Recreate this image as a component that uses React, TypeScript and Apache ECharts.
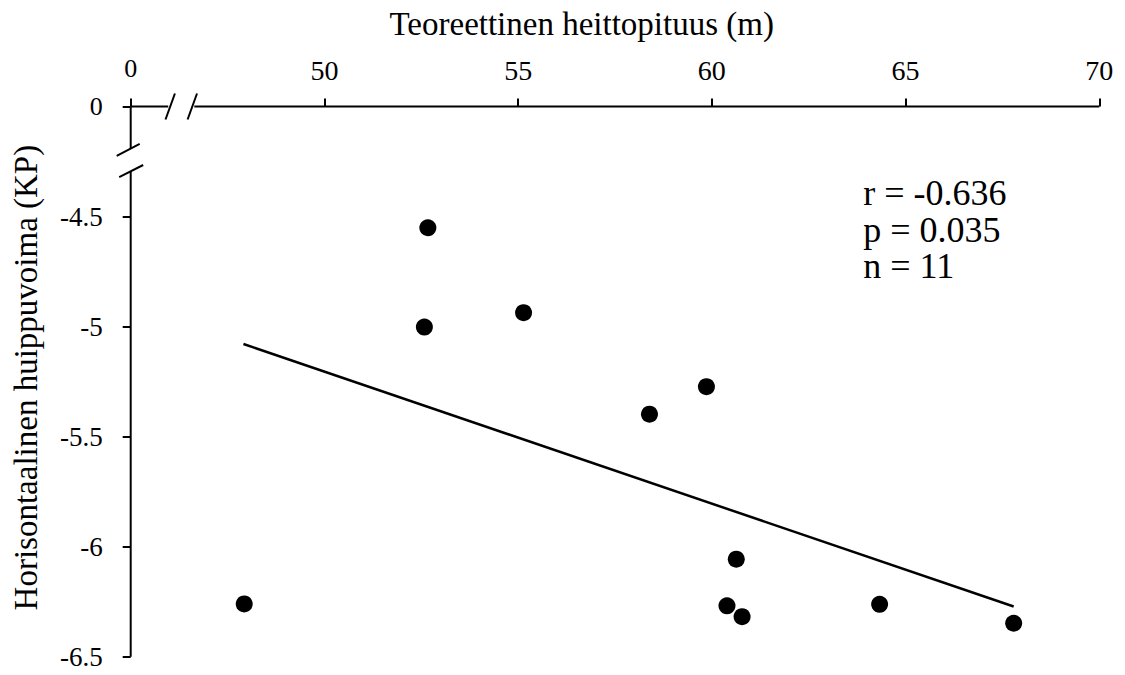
import React, { useEffect, useRef } from "react";
import * as echarts from "echarts";

// Teoreettinen heittopituus (m)
const throwLength = [47.93, 52.67, 52.58, 55.14, 58.39, 59.86, 60.63, 60.39, 60.78, 64.33, 67.79];
// Horisontaalinen huippuvoima (KP)
const peakForce = [-6.26, -4.551, -5.002, -4.937, -5.398, -5.273, -6.057, -6.269, -6.318, -6.262, -6.348];
// Trend line end points
const trendX = [47.91, 67.79];
const trendY = [-5.079, -6.272];

const xMin = 45;
const xMax = 70;
const xStep = 5;
const yMin = -6.5;
const yMax = -4;
const yStep = 0.5;
const breakLabel = "0";

const statsLines = ["r = -0.636", "p = 0.035", "n = 11"];
const xTitle = "Teoreettinen heittopituus (m)";
const yTitle = "Horisontaalinen huippuvoima (KP)";

const FONT = "Liberation Serif";

export default function App() {
  const ref = useRef<HTMLDivElement>(null);
  useEffect(() => {
    if (!ref.current) return;
    const chart = echarts.init(ref.current, undefined, { renderer: "svg" });
    const points = throwLength.map((x, i) => [x, peakForce[i]]);
    const trend = trendX.map((x, i) => [x, trendY[i]]);
    const option: any = {
      animation: false,
      backgroundColor: "#ffffff",
      textStyle: { fontFamily: FONT },
      grid: {
        left: 130.7,
        right: 25.7,
        top: 106.5,
        bottom: 18.3,
        containLabel: false,
        outerBoundsMode: "none",
      },
      xAxis: {
        type: "value",
        position: "top",
        min: xMin,
        max: xMax,
        interval: xStep,
        axisLine: { show: false },
        axisTick: { show: true, length: 8, lineStyle: { color: "#000", width: 2 } },
        splitLine: { show: false },
        axisLabel: {
          margin: 22,
          fontSize: 28,
          lineHeight: 28,
          color: "#000",
          fontFamily: FONT,
          formatter: (v: number) => (v === xMin ? "{z|" + breakLabel + "}" : String(v)),
          rich: { z: { fontSize: 26, lineHeight: 28, padding: [0, 0, 5, 0], color: "#000", fontFamily: FONT } },
        },
      },
      yAxis: {
        type: "value",
        min: yMin,
        max: yMax,
        interval: yStep,
        axisLine: { show: false },
        axisTick: { show: true, length: 8, lineStyle: { color: "#000", width: 2 } },
        splitLine: { show: false },
        axisLabel: {
          margin: 28,
          fontSize: 27,
          color: "#000",
          fontFamily: FONT,
          formatter: (v: number) => (v === yMax ? "{z|" + breakLabel + "}" : String(v)),
          rich: { z: { fontSize: 26, color: "#000", fontFamily: FONT } },
        },
      },
      series: [
        {
          type: "line",
          data: trend,
          symbol: "none",
          lineStyle: { color: "#000", width: 2.5 },
          silent: true,
          z: 2,
        },
        {
          type: "scatter",
          data: points,
          symbol: "circle",
          symbolSize: 17,
          itemStyle: { color: "#000", opacity: 1 },
          z: 3,
        },
      ],
    };
    chart.setOption(option);

    const px = (x: number, y: number) => chart.convertToPixel({ gridIndex: 0 }, [x, y]) as number[];
    const origin = px(xMin, yMax);
    const xEnd = px(xMax, yMax);
    const yEnd = px(xMin, yMin);
    const xGapA = px(46.02, yMax)[0];
    const xGapB = px(46.59, yMax)[0];
    const yGapA = px(xMin, -4.193)[1];
    const yGapB = px(xMin, -4.294)[1];
    const ax = origin[0];
    const ay = origin[1];
    const ls = { stroke: "#000", lineWidth: 2 };
    const seg = (x1: number, y1: number, x2: number, y2: number) => ({
      type: "line",
      shape: { x1, y1, x2, y2 },
      style: ls,
      silent: true,
      z: 10,
    });
    const txt = (t: string, size: number) => ({
      text: t,
      fontFamily: FONT,
      fontSize: size,
      fill: "#000",
    });
    const graphic: any[] = [
      // x axis line with break
      seg(ax, ay, xGapA - 2, ay),
      seg(xGapB + 2, ay, xEnd[0], ay),
      seg(xGapA - 4.7, ay + 13, xGapA + 4.7, ay - 13),
      seg(xGapB - 4.7, ay + 13, xGapB + 4.7, ay - 13),
      // y axis line with break
      seg(ax, ay, ax, yGapA),
      seg(ax, yGapB, ax, yEnd[1]),
      seg(ax - 14, yGapA + 7, ax + 9, yGapA - 5),
      seg(ax - 11.5, yGapB + 6, ax + 12.5, yGapB - 6.2),
      {
        type: "text",
        x: 581.7,
        y: 24,
        style: { ...txt(xTitle, 33), align: "center", verticalAlign: "middle" },
      },
      {
        type: "text",
        x: 25.6,
        y: 377.6,
        rotation: Math.PI / 2,
        style: { ...txt(yTitle, 33), align: "center", verticalAlign: "middle" },
      },
      ...statsLines.map((t, i) => ({
        type: "text",
        x: 863.3,
        y: 193 + i * 36.7,
        style: { ...txt(t, 36), align: "left", verticalAlign: "middle" },
      })),
    ];
    chart.setOption({ graphic });
    return () => chart.dispose();
  }, []);
  return (
    <div
      ref={ref}
      style={{ position: "absolute", left: 0, top: 0, width: 1125, height: 675, background: "#fff" }}
    />
  );
}
